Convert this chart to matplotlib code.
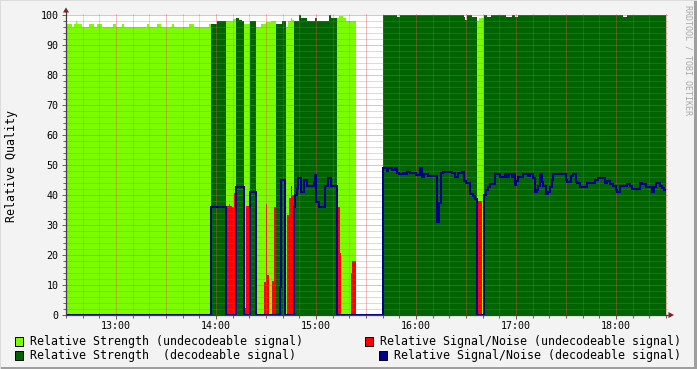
import numpy as np
import matplotlib
matplotlib.use("Agg")
import matplotlib.pyplot as plt
from matplotlib.patches import Rectangle, Polygon
from matplotlib.lines import Line2D
from matplotlib.ticker import MultipleLocator, FuncFormatter

# ---------------- data ----------------
# decoder state: U = undecodeable, D = decodeable, - = no data
state_times = ["12:30", "13:57.2", "14:05.8", "14:12", "14:16.8", "14:20.4", "14:24",
               "14:36.2", "14:42.2", "14:46.6", "15:12.4", "15:24", "15:40.4",
               "16:36.6", "16:40.5"]
state_codes = ["U", "D", "U", "D", "U", "D", "U", "D", "U", "D", "U", "-", "D", "U", "D"]
end_time = "18:30"

# relative strength (step values starting at given time)
strength_times = ["12:30", "12:33.4", "12:34.8", "12:36.0", "12:36.4", "12:39.4", "12:43.8",
                  "12:46.8", "12:48.4", "12:51.4", "12:58.4", "12:59.8", "13:03.4", "13:04.8",
                  "13:18.4", "13:19.8", "13:24.4", "13:26.8", "13:33.4", "13:34.8", "13:43.8",
                  "13:46.8", "13:56.0", "13:57.2", "14:00.4", "14:05.8", "14:10.4", "14:12",
                  "14:14", "14:15.4", "14:16.8", "14:20.4", "14:24", "14:27", "14:30", "14:33",
                  "14:36.2", "14:39.6", "14:42.2", "14:43.4", "14:44.8", "14:45.6", "14:46.6",
                  "14:49.8", "14:51.2", "14:54.4", "14:59.4", "15:00.4", "15:07.8", "15:09",
                  "15:12.4", "15:14", "15:16", "15:18", "15:24", "15:40.4", "15:48.6",
                  "15:50.4", "16:28.8", "16:29.4", "16:30.4", "16:33.4", "16:36.6", "16:37.8",
                  "16:40.5", "16:42.4", "16:44.8", "16:54", "16:57.4", "16:59.6", "17:01.4",
                  "18:04", "18:06.4"]
strength_values = [97, 96, 97, 98, 97, 96, 97,
                   96, 97, 96, 97, 96, 97, 96,
                   97, 96, 97, 96, 97, 96, 97,
                   96, 97, 97, 98, 98, 98.7, 99,
                   98.3, 98, 97, 98, 96, 97, 97.7, 98,
                   97, 98, 96, 98, 99, 98.3, 98,
                   100, 99, 98, 99, 98, 100, 99,
                   99, 99.7, 99, 98, np.nan, 100, 99.3,
                   100, 99.3, 98.3, 100, 99.3, 98, 99,
                   100, 99.3, 100, 99.3, 100, 99.3, 100,
                   99.3, 100]

# relative signal / noise
snr_times = ["12:30", "13:57.2", "14:05.8", "14:06.6", "14:07.8", "14:08.6", "14:09.4",
             "14:10.8", "14:12", "14:16.8", "14:18", "14:20.4", "14:24", "14:28.8",
             "14:30", "14:30.6", "14:31.8", "14:33.6", "14:34.8", "14:36.2", "14:38.2",
             "14:39.2", "14:41.2", "14:42.2", "14:42.6", "14:43.8", "14:45.2", "14:45.8",
             "14:46.6", "14:47.6", "14:48.4", "14:49.2", "14:51.2", "14:52.6", "14:54.4",
             "14:58.6", "14:59.6", "15:00.2", "15:01.6", "15:05.6", "15:07.2", "15:09.2",
             "15:12.4", "15:14.6", "15:15.2", "15:21.2", "15:21.6", "15:24",
             "15:40.4", "15:42.4", "15:43.4", "15:45.4", "15:47.4", "15:48.4", "15:50",
             "15:52", "15:53.4", "15:54.4", "15:56.4", "16:00", "16:02.4", "16:03.4",
             "16:04.8", "16:07.4", "16:12.4", "16:13.6", "16:14.8", "16:16.4", "16:21.4",
             "16:23.4", "16:25.4", "16:27.4", "16:28.8", "16:30", "16:32.4", "16:34",
             "16:35.4", "16:36.6", "16:39.4",
             "16:40.5", "16:42", "16:43.4", "16:44.4", "16:47.4", "16:50.4", "16:53.4",
             "16:54.4", "16:56", "16:57.4", "16:58.4", "16:59.4", "17:00", "17:01.4",
             "17:04.4", "17:07.4", "17:08.4", "17:10.4", "17:11.6", "17:12.4", "17:13.4",
             "17:14.4", "17:15.4", "17:16.4", "17:18", "17:19", "17:20.4", "17:21.4",
             "17:22.4", "17:30", "17:30.8", "17:32.8", "17:34", "17:35.8", "17:36.4",
             "17:38.4", "17:42.4", "17:47.4", "17:49.4", "17:53.4", "17:54.4", "17:56.4",
             "17:58.4", "18:00", "18:00.8", "18:02.4", "18:06.4", "18:08.4", "18:09.4",
             "18:14.4", "18:15.4", "18:17.8", "18:21.4", "18:22.8", "18:23.8", "18:26.4",
             "18:27.4", "18:28.8"]
snr_values = [0, 36, 36, 36.4, 37, 36.4, 36,
              40.7, 42.8, 2.2, 36.3, 40.9, 0, 11.1,
              37, 13.3, 0, 11.3, 35.9, 0, 9.4,
              45, 0, 0, 33.3, 39.1, 43, 40,
              36.1, 40, 42, 45.6, 41.1, 45, 43.1,
              44.4, 46.7, 37.8, 36.1, 43.1, 45.6, 43.1,
              36.1, 20.6, 0, 13.9, 18, 0,
              49, 48, 49, 48.3, 49, 47.4, 47,
              47.4, 47, 47.7, 47.4, 46.7, 49, 46,
              47, 46.3, 31, 37.2, 47.4, 47.8, 47.2,
              46, 47.2, 47.8, 44.8, 43.9, 40.5, 39.8,
              38.6, 38, 0,
              40, 41.7, 42.6, 43.6, 46.9, 46.1, 46.9,
              46.1, 46.9, 46.1, 46.9, 43.3, 44.7, 45.9,
              46.9, 46.3, 46.9, 45.6, 41.1, 41.7, 43,
              46.9, 44.4, 43, 40.2, 41.1, 42.8, 45,
              46.9, 45, 44.4, 46.4, 46.9, 44.4, 43.9,
              42.8, 43.9, 45, 45.6, 44.1, 44.8, 43.7,
              43, 41.7, 40.9, 43, 43.7, 43, 42,
              43.9, 43.7, 42.8, 41, 42.8, 43.9, 43.1,
              42.4, 41.8]

y_ticks = [0, 10, 20, 30, 40, 50, 60, 70, 80, 90, 100]
x_tick_labels = ["13:00", "14:00", "15:00", "16:00", "17:00", "18:00"]

legend_labels = ["Relative Strength (undecodeable signal)",
                 "Relative Strength  (decodeable signal)",
                 "Relative Signal/Noise (undecodeable signal)",
                 "Relative Signal/Noise (decodeable signal)"]

# ---------------- style ----------------
C_LIGHT = "#7CFC00"
C_DARK = "#006400"
C_RED = "#FF0000"
C_BLUE = "#00008B"
C_BACK = "#F3F3F3"
MONO = "DejaVu Sans Mono"


def hours(s):
    h, m = s.split(":")
    return int(h) + float(m) / 60.0


def step_eval(times, values, grid):
    t = np.array([hours(s) for s in times])
    idx = np.searchsorted(t, grid + 1e-9, side="right") - 1
    return np.asarray(values, dtype=object)[idx]


all_times = set(hours(s) for s in state_times + strength_times + snr_times + [end_time])
grid = np.array(sorted(all_times))

code = step_eval(state_times, state_codes, grid).astype(str)
strength = step_eval(strength_times, strength_values, grid).astype(float)
snr = step_eval(snr_times, snr_values, grid).astype(float)

strength0 = np.nan_to_num(strength)
snr0 = np.nan_to_num(snr)
light = np.where(code == "U", strength0, 0.0)
dark = np.where(code == "D", strength0, 0.0)
red = np.where(code == "U", snr0, 0.0)
blue = np.where(code == "D", snr0, 0.0)

W, H = 697, 369
fig = plt.figure(figsize=(W / 100, H / 100), dpi=100, facecolor=C_BACK)
L, R, T, B = 66, 666, 15, 315
ax = fig.add_axes([L / W, 1 - B / H, (R - L) / W, (B - T) / H])
ax.set_facecolor("white")
x0, x1 = hours("12:30"), hours(end_time)
ax.set_xlim(x0, x1)
ax.set_ylim(0, 100)

ax.fill_between(grid, 0, light, step="post", color=C_LIGHT, lw=0, zorder=1)
ax.fill_between(grid, 0, dark, step="post", color=C_DARK, lw=0, zorder=1.1)
ax.fill_between(grid, 0, red, step="post", color=C_RED, lw=0, zorder=1.2)

# grid lines (dotted, extending 2px beyond canvas)
px_x = (x1 - x0) / (R - L)
px_y = 100.0 / (B - T)
minor_c = (0.5, 0.5, 0.5, 0.28)
major_c = (0.87, 0.31, 0.31, 0.38)
for i in range(0, 37):
    xv = x0 + i / 6.0
    c = major_c if i % 3 == 0 else minor_c
    ax.add_line(Line2D([xv, xv], [-2 * px_y, 100 + 2 * px_y], color=c, lw=0.72,
                       ls=(0, (1, 1)), clip_on=False, zorder=2, antialiased=False))
for yv in range(0, 101, 2):
    c = major_c if yv % 10 == 0 else minor_c
    ax.add_line(Line2D([x0 - 2 * px_x, x1 + 2 * px_x], [yv, yv], color=c, lw=0.72,
                       ls=(0, (1, 1)), clip_on=False, zorder=2, antialiased=False))

ax.plot(grid, blue, drawstyle="steps-post", color=C_BLUE, lw=1.45, zorder=3,
        solid_joinstyle="miter")

for s in ax.spines.values():
    s.set_visible(False)

ax.xaxis.set_major_locator(MultipleLocator(1.0))
ax.xaxis.set_major_formatter(FuncFormatter(lambda v, p: "%d:00" % round(v)))
ax.xaxis.set_minor_locator(MultipleLocator(1 / 6.0))
ax.set_yticks(y_ticks)
ax.yaxis.set_minor_locator(MultipleLocator(2))
ax.tick_params(which="both", direction="out", color="#606060", width=0.72,
               labelsize=7.2, labelcolor="black")
ax.tick_params(which="major", length=3)
ax.tick_params(which="minor", length=2)
ax.tick_params(axis="x", pad=1.5)
ax.tick_params(axis="y", pad=2.5)
for lab in ax.get_xticklabels() + ax.get_yticklabels():
    lab.set_family(MONO)


def fx(px):
    return px / W


def fy(py):
    return 1 - py / H


fig.text(fx(12), fy(166), "Relative Quality", family=MONO, fontsize=8.4, rotation=90,
         ha="center", va="center", color="black")

# axes with arrows
AX_C = "#404040"
AR_C = "#7F1F1F"
fig.add_artist(Line2D([fx(L), fx(L)], [fy(B), fy(11)], color=AX_C, lw=0.9))
fig.add_artist(Line2D([fx(L), fx(670)], [fy(B), fy(B)], color=AX_C, lw=0.9))
fig.add_artist(Polygon([[fx(63), fy(12.5)], [fx(69), fy(12.5)], [fx(66), fy(7.5)]],
                       closed=True, color=AR_C, lw=0))
fig.add_artist(Polygon([[fx(668.5), fy(312)], [fx(668.5), fy(318)], [fx(674), fy(315)]],
                       closed=True, color=AR_C, lw=0))

# legend
leg_items = [(15, 341, C_LIGHT, 30, legend_labels[0]),
             (15, 355, C_DARK, 30, legend_labels[1]),
             (365, 341, C_RED, 380, legend_labels[2]),
             (379, 355, C_BLUE, 394, legend_labels[3])]
for bx, by, col, tx, txt in leg_items:
    fig.add_artist(Rectangle((fx(bx), fy(by + 4.5)), 8 / W, 9 / H, facecolor=col,
                             edgecolor="black", lw=0.72))
    fig.text(fx(tx), fy(by), txt, family=MONO, fontsize=8.4, va="center", ha="left",
             color="black")

# watermark
fig.text(fx(688), fy(60), "RRDTOOL / TOBI OETIKER", family=MONO, fontsize=6.0,
         rotation=-90, ha="center", va="center", color="#A8A8A8")

# image border shades
fig.add_artist(Rectangle((0, 0), 1, 2 / H, facecolor="#9E9E9E", lw=0))
fig.add_artist(Rectangle((1 - 3 / W, 0), 3 / W, 1, facecolor="#9E9E9E", lw=0))
fig.add_artist(Rectangle((0, 1 - 1 / H), 1, 1 / H, facecolor="#DCDCDC", lw=0))
fig.add_artist(Rectangle((0, 0), 1 / W, 1, facecolor="#DCDCDC", lw=0))

fig.savefig("out.png", dpi=100, facecolor=C_BACK)
